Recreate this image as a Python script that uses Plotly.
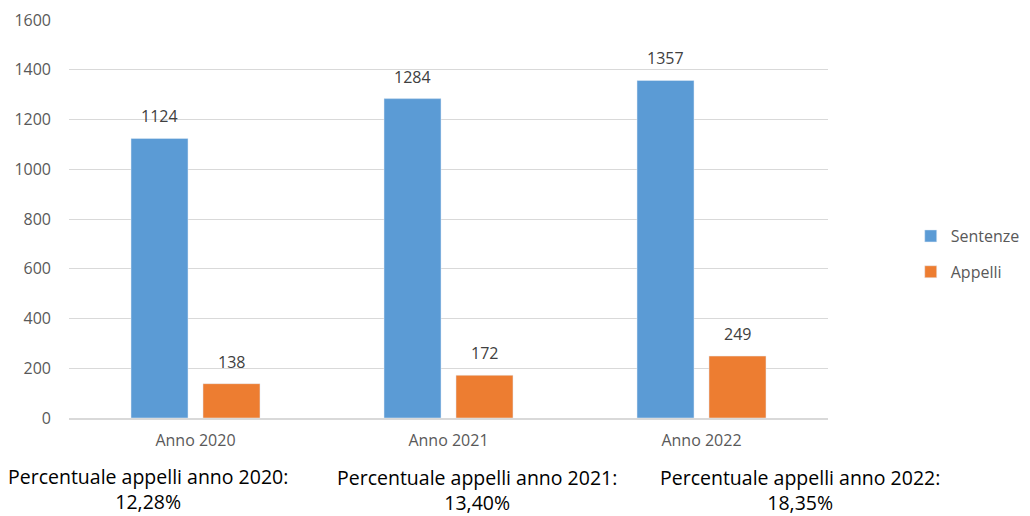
import plotly.graph_objects as go

categories = ["Anno 2020", "Anno 2021", "Anno 2022"]
sentenze = [1124, 1284, 1357]
appelli = [138, 172, 249]
percent_notes = [
    "Percentuale appelli anno 2020:<br>12,28%",
    "Percentuale appelli anno 2021:<br>13,40%",
    "Percentuale appelli anno 2022:<br>18,35%",
]
y_ticks = [0, 200, 400, 600, 800, 1000, 1200, 1400, 1600]

FONT = "Open Sans"
BLUE = "#5B9BD5"
ORANGE = "#ED7D31"

fig = go.Figure()
fig.add_trace(go.Bar(name="Sentenze", x=categories, y=sentenze, marker_color=BLUE,
                     legendgroup="a"))
fig.add_trace(go.Bar(name="Appelli", x=categories, y=appelli, marker_color=ORANGE,
                     legendgroup="b"))

annotations = []
for cat, v in zip(categories, sentenze):
    annotations.append(dict(x=cat, y=v, xref="x", yref="y", text=str(v), showarrow=False,
                            xshift=-36, yshift=9, yanchor="bottom",
                            font=dict(family=FONT, size=16, color="#404040")))
for cat, v in zip(categories, appelli):
    annotations.append(dict(x=cat, y=v, xref="x", yref="y", text=str(v), showarrow=False,
                            xshift=36, yshift=9, yanchor="bottom",
                            font=dict(family=FONT, size=16, color="#404040")))

note_x = [0.104, 0.5375, 0.963]
note_y = [-0.178, -0.18, -0.18]
for t, xx, yy in zip(percent_notes, note_x, note_y):
    annotations.append(dict(x=xx, y=yy, xref="paper", yref="paper", text=t, showarrow=False,
                            xanchor="center", yanchor="middle", align="center", borderpad=0,
                            font=dict(family=FONT, size=19.5, color="#000000")))

fig.update_layout(
    width=1030, height=516,
    margin=dict(l=69, r=202, t=20, b=98, autoexpand=False),
    paper_bgcolor="white", plot_bgcolor="white",
    barmode="group", bargap=0.431, bargroupgap=0.208,
    font=dict(family=FONT, size=16, color="#595959"),
    xaxis=dict(showgrid=False, showline=True, linecolor="#D9D9D9", linewidth=1.5,
               ticks="", ticklabelstandoff=7, tickfont=dict(size=16, color="#595959")),
    yaxis=dict(range=[0, 1600], tickvals=y_ticks, showgrid=True, gridcolor="#D9D9D9",
               gridwidth=1, zeroline=False, ticks="", ticklabelstandoff=17,
               tickfont=dict(size=16, color="#595959")),
    legend=dict(x=1.109, y=0.412, xanchor="left", yanchor="middle",
                traceorder="grouped", tracegroupgap=12,
                font=dict(family=FONT, size=16, color="#595959")),
    annotations=annotations,
)

fig.write_html("out.html")
